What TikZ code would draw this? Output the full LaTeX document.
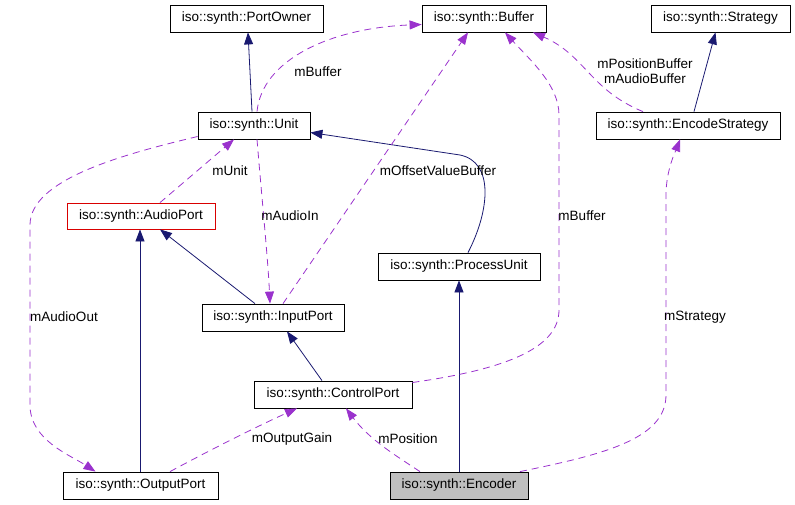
\documentclass[tikz,border=0pt]{standalone}
\usepackage{fontspec}
\setmainfont{Liberation Sans}
\usetikzlibrary{arrows.meta}

\definecolor{inhcol}{HTML}{191970}
\definecolor{usecol}{HTML}{9A32CD}

\tikzset{
  cls/.style={draw, line width=0.8pt, minimum height=27pt, inner sep=0pt, font=\fontsize{13.5}{15}\selectfont},
  inherit/.style={draw=inhcol, line width=0.8pt, -{Triangle[length=12pt,width=9pt]}, inhcol},
  uses/.style={draw=usecol, line width=0.8pt, dash pattern=on 7pt off 5pt, -{Triangle[length=12pt,width=9pt]}, usecol},
  lbl/.style={font=\fontsize{13.5}{15}\selectfont, align=center, inner sep=0pt}
}

\begin{document}
\begin{tikzpicture}[x=1pt, y=-1pt]
  \useasboundingbox (0,0) rectangle (795,504);

  % Nodes
  \node[cls, minimum width=153pt] (PortOwner) at (246.5,18.5) {iso::synth::PortOwner};
  \node[cls, minimum width=124pt] (Buffer) at (484,18.5) {iso::synth::Buffer};
  \node[cls, minimum width=139pt] (Strategy) at (720.5,18.5) {iso::synth::Strategy};
  \node[cls, minimum width=112pt] (Unit) at (254,125.5) {iso::synth::Unit};
  \node[cls, minimum width=184pt] (EncodeStrategy) at (688,125.5) {iso::synth::EncodeStrategy};
  \node[cls, draw=red!85!black, minimum width=148pt, minimum height=26pt] (AudioPort) at (141,216) {iso::synth::AudioPort};
  \node[cls, minimum width=162pt] (ProcessUnit) at (459,266.5) {iso::synth::ProcessUnit};
  \node[cls, minimum width=142pt] (InputPort) at (273,317.5) {iso::synth::InputPort};
  \node[cls, minimum width=158pt] (ControlPort) at (333,394.5) {iso::synth::ControlPort};
  \node[cls, minimum width=155pt] (OutputPort) at (140.5,485.5) {iso::synth::OutputPort};
  \node[cls, fill=black!25, minimum width=138pt] (Encoder) at (459,485.5) {iso::synth::Encoder};

  % Edges
  \draw[inherit] ([xshift=-2pt]Unit.north) -- ([xshift=1.5pt]PortOwner.south);
  \draw[inherit] ([xshift=9pt]ProcessUnit.north) .. controls (490,210) and (494,162) .. (460,155) -- ([yshift=-7pt]Unit.east);
  \draw[inherit] ([xshift=-18pt]InputPort.north) -- ([xshift=19pt]AudioPort.south);
  \draw[inherit] ([xshift=-0.5pt]OutputPort.north) -- ([xshift=-1pt]AudioPort.south);
  \draw[inherit] ([xshift=-11pt]ControlPort.north) -- ([xshift=14pt]InputPort.south);
  \draw[inherit] (Encoder.north) -- (ProcessUnit.south);
  \draw[inherit] ([xshift=6pt]EncodeStrategy.north) -- ([xshift=-5pt]Strategy.south);

  \draw[uses] ([xshift=3pt]Unit.north) .. controls (262,60) and (330,28) .. ([yshift=-6pt]Buffer.west);
  \draw[uses] ([xshift=10pt]InputPort.north) -- ([xshift=-16pt]Buffer.south);
  \draw[uses] ([yshift=12pt]ControlPort.east) .. controls (500,370) and (559,350) .. (559,310) -- (559,115) .. controls (559,85) and (530,60) .. ([xshift=21pt]Buffer.south);
  \draw[uses] ([xshift=-45pt]EncodeStrategy.north) .. controls (590,90) and (585,55) .. ([xshift=49pt]Buffer.south);
  \draw[uses] ([xshift=19pt]AudioPort.north) -- ([xshift=-20pt]Unit.south);
  \draw[uses] ([xshift=3pt]Unit.south) .. controls (262,200) and (268,260) .. ([xshift=-3pt]InputPort.north);
  \draw[uses] ([yshift=-11pt]Unit.west) .. controls (120,155) and (30,180) .. (30,225) -- (30,405) .. controls (30,440) and (70,455) .. ([xshift=-45pt]OutputPort.north);
  \draw[uses] ([xshift=29.5pt]OutputPort.north) .. controls (210,450) and (260,425) .. ([xshift=-36pt]ControlPort.south);
  \draw[uses] ([xshift=-39pt]Encoder.north) .. controls (395,455) and (370,440) .. ([xshift=13pt]ControlPort.south);
  \draw[uses] ([xshift=61pt]Encoder.north) .. controls (600,455) and (666,440) .. (666,395) -- (666,195) .. controls (666,170) and (676,150) .. ([xshift=-8pt]EncodeStrategy.south);

  % Labels
  \node[lbl] (lBuffer) at (318,72) {mBuffer};
  \node[lbl] (lOffset) at (438,171) {mOffsetValueBuffer};
  \node[lbl] (lBuffer2) at (582,216) {mBuffer};
  \node[lbl] (lPosBuf) at (645,71) {mPositionBuffer\\mAudioBuffer};
  \node[lbl] (lUnit) at (230,171) {mUnit};
  \node[lbl] (lAudioIn) at (290,216) {mAudioIn};
  \node[lbl] (lAudioOut) at (64,317) {mAudioOut};
  \node[lbl] (lGain) at (292,439) {mOutputGain};
  \node[lbl] (lPosition) at (408,439) {mPosition};
  \node[lbl] (lStrategy) at (695,317) {mStrategy};
\end{tikzpicture}
\end{document}
